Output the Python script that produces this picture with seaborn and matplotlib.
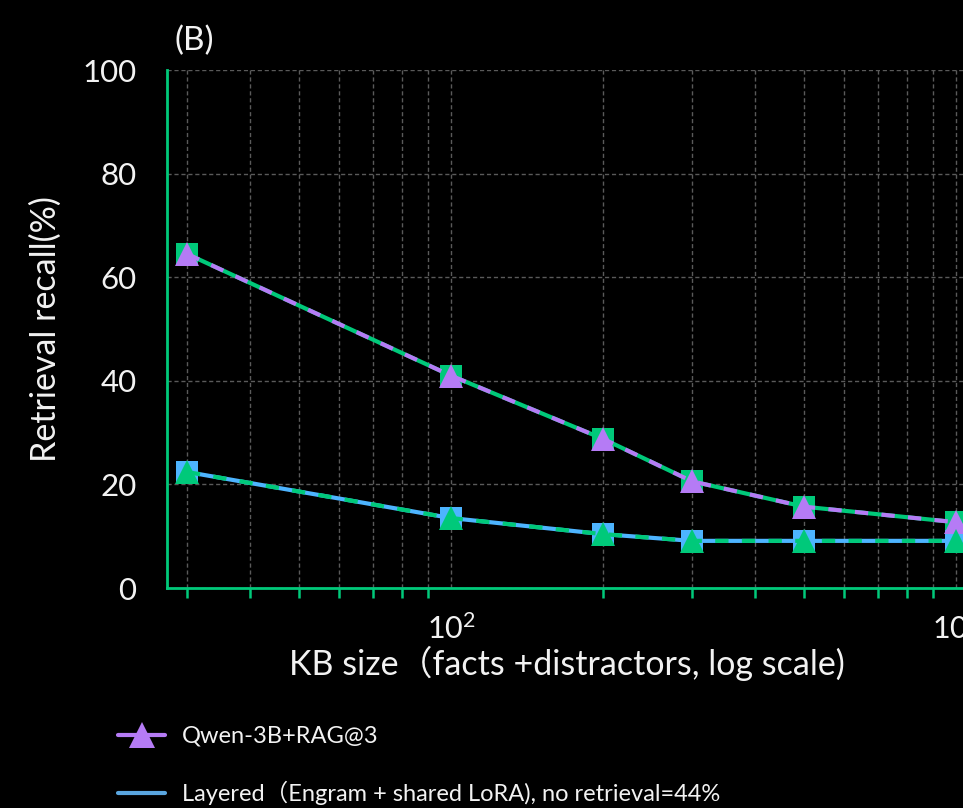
import matplotlib
matplotlib.use("Agg")
import matplotlib.pyplot as plt
import seaborn as sns
from matplotlib.lines import Line2D
from matplotlib.ticker import LogLocator, NullFormatter

# ---- data -------------------------------------------------------------
kb_size = [30, 100, 200, 300, 500, 1000]
qwen_rag3 = [64.5, 41.0, 28.8, 20.6, 15.7, 12.7]
qwen_rag3_green = [64.5, 41.0, 28.8, 20.6, 15.7, 12.7]
layered = [22.4, 13.5, 10.4, 9.1, 9.1, 9.1]
layered_green = [22.4, 13.5, 10.4, 9.1, 9.1, 9.1]
y_ticks = [0, 20, 40, 60, 80, 100]
legend_labels = ["Qwen-3B+RAG@3",
                 "Layered（Engram + shared LoRA), no retrieval=44%"]
x_label = "KB size（facts +distractors, log scale)"
y_label = "Retrieval recall(%)"
panel_tag = "(B)"

# ---- style ------------------------------------------------------------
GREEN = "#00C97A"
PURPLE = "#B57BF5"
BLUE = "#4DB4FF"
LEG_BLUE = "#5AA6E0"
TEXT = "#F2F2F2"
GRID = "#5a5a5a"

sns.set_theme(style="dark")
plt.rcParams["font.family"] = ["Lato", "Noto Sans CJK SC", "DejaVu Sans"]
plt.rcParams["mathtext.default"] = "regular"

W, H = 963, 808
fig = plt.figure(figsize=(W / 100, H / 100), dpi=100, facecolor="black")
# the plotting area continues past the right edge of the canvas
ax_w = 846.5 / W
ax = fig.add_axes([167 / W, 1 - 588 / H, ax_w, 518 / H])
ax.set_facecolor("black")

lw = 3.0
dash = (0, (3.2, 3.2))
sns.lineplot(x=kb_size, y=qwen_rag3_green, ax=ax, color=GREEN, linewidth=lw,
             marker="s", markersize=16, markeredgewidth=0, zorder=3)
sns.lineplot(x=kb_size, y=qwen_rag3, ax=ax, color=PURPLE, linewidth=lw,
             linestyle=dash, marker="^", markersize=17, markeredgewidth=0,
             zorder=4)
sns.lineplot(x=kb_size, y=layered, ax=ax, color=BLUE, linewidth=lw,
             marker="s", markersize=16, markeredgewidth=0, zorder=3)
sns.lineplot(x=kb_size, y=layered_green, ax=ax, color=GREEN, linewidth=lw,
             linestyle=dash, marker="^", markersize=17, markeredgewidth=0,
             zorder=4)

ax.set_xscale("log")
ax.set_xlim(27.39, 1300)
ax.set_ylim(0, 100)
ax.set_yticks(y_ticks)
ax.xaxis.set_major_locator(LogLocator(base=10))
ax.xaxis.set_minor_locator(LogLocator(base=10, subs=range(2, 10)))
ax.xaxis.set_minor_formatter(NullFormatter())

for side in ("top", "right"):
    ax.spines[side].set_visible(False)
for side in ("left", "bottom"):
    ax.spines[side].set_color(GREEN)
    ax.spines[side].set_linewidth(2)

ax.tick_params(axis="both", which="both", direction="out", colors=GREEN,
               labelcolor=TEXT, length=7, width=1.8)
ax.tick_params(axis="x", which="major", width=3, labelsize=22, pad=11)
ax.tick_params(axis="y", which="major", labelsize=22.5, pad=15)
ax.tick_params(axis="x", which="minor", bottom=True)

ax.grid(True, which="both", axis="x", color=GRID, linestyle=(0, (3, 2)),
        linewidth=1.0)
ax.grid(True, which="major", axis="y", color=GRID, linestyle=(0, (3, 2)),
        linewidth=1.0)
ax.set_axisbelow(True)

ax.set_xlabel(x_label, color=TEXT, fontsize=24.5)
ax.xaxis.set_label_coords((567 - 167) / (ax_w * W), (588 - 646) / 518)
ax.set_ylabel(y_label, color=TEXT, fontsize=24.5)
ax.yaxis.set_label_coords((62 - 167) / (ax_w * W), 0.5)

fig.text(174 / W, 1 - 50 / H, panel_tag, color=TEXT, fontsize=24,
         ha="left", va="baseline")

handles = [
    Line2D([], [], color=PURPLE, linewidth=lw, marker="^", markersize=19,
           markeredgewidth=0),
    Line2D([], [], color=LEG_BLUE, linewidth=lw),
]
fig.legend(handles, legend_labels, loc="upper left",
           bbox_to_anchor=(118 / W, 1 - 726 / H), frameon=False,
           fontsize=17, labelcolor=TEXT, handlelength=2.0,
           handletextpad=0.7, labelspacing=1.45, borderpad=0, borderaxespad=0)

fig.savefig("out.png", dpi=100, facecolor="black")
